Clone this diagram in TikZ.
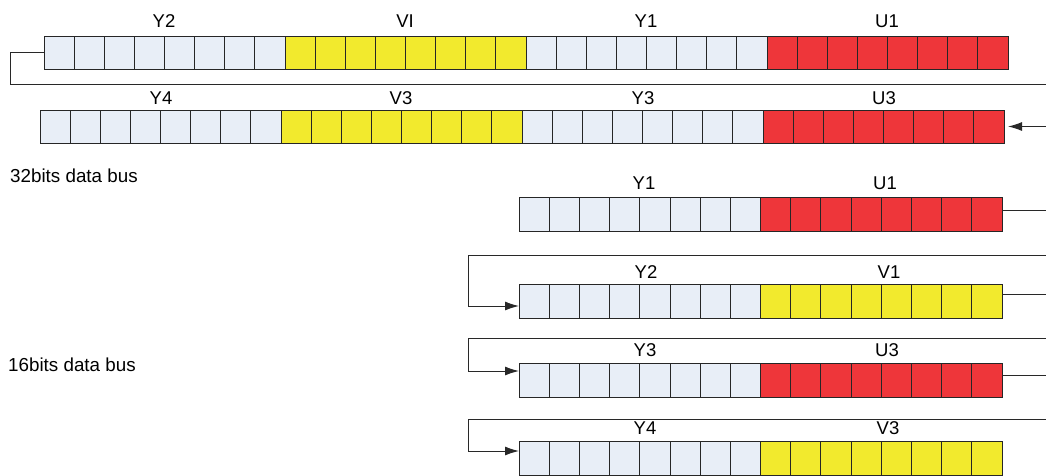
\documentclass[tikz,border=0pt]{standalone}
\usepackage{fontspec}
\setmainfont{Liberation Sans}
\usetikzlibrary{arrows.meta}
\definecolor{cellblue}{RGB}{232,238,247}
\definecolor{cellyel}{RGB}{242,234,45}
\definecolor{cellred}{RGB}{238,54,58}
\definecolor{wirec}{RGB}{40,40,40}
\newcommand\lowrow[3]{%
  \foreach \i in {1,...,16} {
    \pgfmathsetmacro\xx{519+(\i-1)*30.1875}
    \ifnum\i<9 \def\cc{cellblue}\else\def\cc{#3}\fi
    \node[cell, fill=\cc, minimum width=30.1875pt] (#1\i) at (\xx,#2) {};
  }}
\begin{document}
\begin{tikzpicture}[x=1pt,y=-1pt,
  cell/.style={draw=black!85, line width=0.8pt, minimum height=34pt, inner sep=0pt, outer sep=0pt, anchor=north west},
  lbl/.style={font=\fontsize{18.5}{22}\selectfont, inner sep=0pt},
  side/.style={font=\fontsize{18.8}{22}\selectfont, anchor=base west, inner sep=0pt},
  wire/.style={draw=wirec, line width=1pt},
  arr/.style={wire, -{Latex[length=14pt,width=9pt]}}]
\useasboundingbox (0,0) rectangle (1046,475);
% ---- 32-bit rows ----
\foreach \i in {1,...,32} {
  \pgfmathsetmacro\xx{44+(\i-1)*30.125}
  \ifnum\i<9 \def\cc{cellblue}\else\ifnum\i<17 \def\cc{cellyel}\else\ifnum\i<25 \def\cc{cellblue}\else\def\cc{cellred}\fi\fi\fi
  \node[cell, fill=\cc, minimum width=30.125pt, minimum height=33pt] (a\i) at (\xx,36) {};
}
\foreach \i in {1,...,32} {
  \pgfmathsetmacro\xx{40+(\i-1)*30.125}
  \ifnum\i<9 \def\cc{cellblue}\else\ifnum\i<17 \def\cc{cellyel}\else\ifnum\i<25 \def\cc{cellblue}\else\def\cc{cellred}\fi\fi\fi
  \node[cell, fill=\cc, minimum width=30.125pt, minimum height=33pt] (b\i) at (\xx,110) {};
}
% ---- 16-bit rows ----
\lowrow{c}{197}{cellred}
\lowrow{d}{284}{cellyel}
\lowrow{f}{363}{cellred}
\lowrow{g}{441}{cellyel}
% ---- labels ----
\node[lbl] (l1) at (164,21) {Y2};
\node[lbl] (l2) at (405,21) {VI};
\node[lbl] (l3) at (646,21) {Y1};
\node[lbl] (l4) at (887,21) {U1};
\node[lbl] (l5) at (161,98) {Y4};
\node[lbl] (l6) at (401,98) {V3};
\node[lbl] (l7) at (643,98) {Y3};
\node[lbl] (l8) at (884,98) {U3};
\node[lbl] (l9) at (644,183) {Y1};
\node[lbl] (l10) at (885,183) {U1};
\node[lbl] (l11) at (646,272) {Y2};
\node[lbl] (l12) at (889,272) {V1};
\node[lbl] (l13) at (645,350) {Y3};
\node[lbl] (l14) at (887,350) {U3};
\node[lbl] (l15) at (645,428) {Y4};
\node[lbl] (l16) at (888,428) {V3};
\node[side] (s1) at (10,182) {32bits data bus};
\node[side] (s2) at (8,371) {16bits data bus};
% ---- connectors ----
\coordinate (e1) at (1046,84);
\draw[wire] (a1.west) -- ++(-34,0) |- (e1);
\coordinate (e2) at (1046,126.5);
\draw[arr, shorten >=4pt] (e2) -- (b32.east);
\coordinate (e3) at (1046,210);
\draw[wire] (e3 -| c16.east) -- (e3);
\coordinate (e4) at (1046,255);
\coordinate (k4) at (468,255);
\coordinate (j4) at (0,306);
\draw[arr] (e4) -- (k4) |- (d1.west |- j4);
\coordinate (e5) at (1046,294);
\draw[wire] (e5 -| d16.east) -- (e5);
\coordinate (e6) at (1046,338);
\coordinate (k6) at (468,338);
\coordinate (j6) at (0,371);
\draw[arr] (e6) -- (k6) |- (f1.west |- j6);
\coordinate (e7) at (1046,375);
\draw[wire] (e7 -| f16.east) -- (e7);
\coordinate (e8) at (1046,419);
\coordinate (k8) at (468,419);
\coordinate (j8) at (0,451);
\draw[arr] (e8) -- (k8) |- (g1.west |- j8);
\end{tikzpicture}
\end{document}
